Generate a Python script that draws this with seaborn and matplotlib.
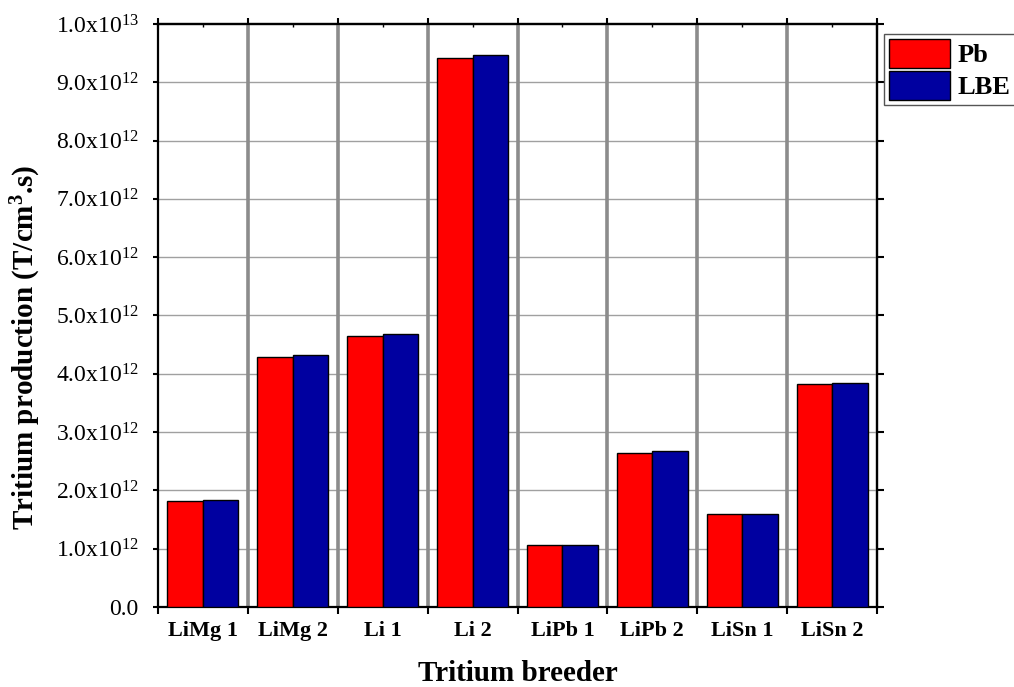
import numpy as np
import pandas as pd
import matplotlib
matplotlib.use("Agg")
import matplotlib.pyplot as plt
import seaborn as sns

# Tritium production for each breeder, per coolant
breeders = ["LiMg 1", "LiMg 2", "Li 1", "Li 2", "LiPb 1", "LiPb 2", "LiSn 1", "LiSn 2"]
pb_values = [1.82e12, 4.28e12, 4.65e12, 9.41e12, 1.06e12, 2.65e12, 1.59e12, 3.82e12]
lbe_values = [1.84e12, 4.32e12, 4.68e12, 9.47e12, 1.07e12, 2.68e12, 1.60e12, 3.85e12]
coolants = ["Pb", "LBE"]
coolant_colors = ["#FF0000", "#0000A0"]

y_ticks = [0.0, 1e12, 2e12, 3e12, 4e12, 5e12, 6e12, 7e12, 8e12, 9e12, 1e13]
y_tick_labels = ["0.0", "1.0x10$^{12}$", "2.0x10$^{12}$", "3.0x10$^{12}$",
                 "4.0x10$^{12}$", "5.0x10$^{12}$", "6.0x10$^{12}$", "7.0x10$^{12}$",
                 "8.0x10$^{12}$", "9.0x10$^{12}$", "1.0x10$^{13}$"]

df = pd.DataFrame({
    "breeder": breeders * 2,
    "coolant": [coolants[0]] * len(breeders) + [coolants[1]] * len(breeders),
    "value": pb_values + lbe_values,
})

sns.set_theme(style="white")
plt.rcParams["font.family"] = ["Liberation Serif", "DejaVu Serif"]
plt.rcParams["mathtext.default"] = "regular"
plt.rcParams["text.color"] = "black"
plt.rcParams["axes.labelcolor"] = "black"
plt.rcParams["xtick.color"] = "black"
plt.rcParams["ytick.color"] = "black"
plt.rcParams["xtick.labelcolor"] = "black"
plt.rcParams["ytick.labelcolor"] = "black"

fig = plt.figure(figsize=(10.14, 6.87), dpi=100)
ax = fig.add_axes([158 / 1014, 1 - 607 / 687, (877 - 158) / 1014, (607 - 24) / 687])

sns.barplot(data=df, x="breeder", y="value", hue="coolant", order=breeders,
            hue_order=coolants, palette=coolant_colors, width=0.79, gap=0,
            edgecolor="black", linewidth=1.0, saturation=1, ax=ax, zorder=3)

n = len(breeders)
ax.set_xlim(-0.5, n - 0.5)
ax.set_ylim(0, 1e13)

# horizontal grid and category separators
for yv in y_ticks[1:-1]:
    ax.axhline(yv, color="#a0a0a0", lw=1.0, zorder=1)
for xb in np.arange(n - 1) + 0.5:
    ax.axvline(xb, color="#8c8c8c", lw=2.6, zorder=1)

for sp in ax.spines.values():
    sp.set_color("black")
    sp.set_linewidth(1.6)
    sp.set_visible(True)

# y axis
ax.set_yticks(y_ticks)
ax.set_yticklabels(y_tick_labels, fontsize=17, color="black")
ax.tick_params(axis="y", which="major", direction="out", length=3.5, width=1.5,
               left=True, right=False, colors="black", pad=10.5)

# x axis: labels centred, ticks at category boundaries
ax.set_xticks(np.arange(n))
ax.set_xticklabels(breeders, fontsize=16, fontweight="bold", color="black")
ax.set_xticks(np.arange(n + 1) - 0.5, minor=True)
ax.tick_params(axis="x", which="major", length=0, pad=10, bottom=True)
ax.tick_params(axis="x", which="minor", direction="out", length=5, width=1.5,
               bottom=True, colors="black")

# top axis ticks
top = ax.secondary_xaxis("top")
top.set_xticks(np.arange(n + 1) - 0.5)
top.set_xticks(np.arange(n), minor=True)
top.tick_params(which="major", direction="inout", length=8, width=1.5, labeltop=False,
                colors="black")
top.tick_params(which="minor", direction="in", length=2, width=1.0, colors="black")
top.set_xticklabels([])
top.spines["top"].set_linewidth(1.6)

# right axis ticks
right = ax.secondary_yaxis("right")
right.set_yticks(y_ticks)
right.tick_params(direction="out", length=5, width=1.5, labelright=False, colors="black")
right.set_yticklabels([])
right.spines["right"].set_linewidth(1.6)

ax.set_xlabel("Tritium breeder", fontsize=21, fontweight="bold", labelpad=14,
              color="black")
ax.set_ylabel("Tritium production (T/cm$^{3}$.s)", fontsize=21, fontweight="bold",
              color="black")
ax.yaxis.set_label_coords(-0.16, 0.445)

handles, labels = ax.get_legend_handles_labels()
ax.get_legend().remove()
leg = fig.legend(handles, labels, loc="upper left",
                 bbox_to_anchor=(884 / 1014, 1 - 34 / 687),
                 prop={"family": "Liberation Serif", "weight": "bold", "size": 19},
                 frameon=True, fancybox=False, framealpha=1, edgecolor="#555555",
                 borderpad=0.2, labelspacing=0.12, handlelength=2.3, handleheight=1.3,
                 handletextpad=0.3, borderaxespad=0, labelcolor="black")
leg.get_frame().set_linewidth(1.0)

fig.savefig("out.png", dpi=100)
